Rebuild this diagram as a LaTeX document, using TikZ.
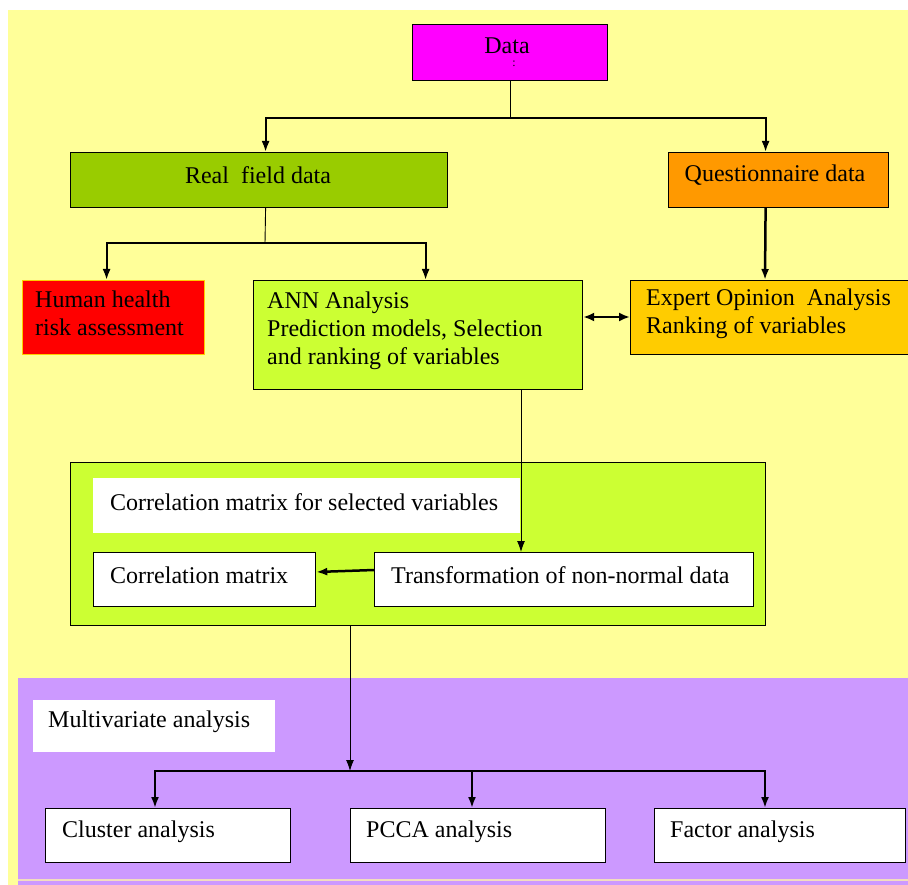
\documentclass[tikz,border=0pt]{standalone}
\usepackage{fontspec}
\setmainfont{Liberation Serif}
\usetikzlibrary{arrows.meta,calc}
\definecolor{bgyellow}{HTML}{FFFF99}
\definecolor{bgpurple}{HTML}{CC99FF}
\definecolor{cmag}{HTML}{FF00FF}
\definecolor{cgreen}{HTML}{99CC00}
\definecolor{corange}{HTML}{FF9900}
\definecolor{cred}{HTML}{FF0000}
\definecolor{cgold}{HTML}{FFCC00}
\definecolor{clime}{HTML}{CCFF33}
\definecolor{cline}{HTML}{F2DDC0}
\begin{document}
\begin{tikzpicture}[x=1pt,y=-1pt,
  font=\fontsize{24}{28}\selectfont,
  box/.style={draw=black, line width=1.2pt, rectangle, inner sep=0pt, anchor=north west},
  plain/.style={rectangle, inner sep=0pt, anchor=north west},
  txt/.style={anchor=west, align=left, inner sep=0pt, yshift=4pt},
  thin/.style={line width=0.9pt},
  arr/.style={line width=2pt, -{Latex[length=11pt,width=8pt]}},
  arrthin/.style={line width=0.9pt, -{Latex[length=11pt,width=8pt]}}
]
\useasboundingbox (0,0) rectangle (908,885);
% backgrounds
\fill[white] (0,0) rectangle (908,885);
\fill[bgyellow] (8,10) rectangle (908,885);
\fill[bgpurple] (18,678) rectangle (908,885);
\draw[cline, line width=2pt] (18,880) -- (908,880);

% top level
\node[box, fill=cmag, minimum width=195pt, minimum height=56pt] (data) at (412,24) {};
\node[inner sep=0pt] (datatxt) at (507,46) {Data};
\node[inner sep=0pt, font=\fontsize{12}{12}\selectfont] (datacolon) at (514,64) {:};

\node[box, fill=cgreen, minimum width=377pt, minimum height=55pt] (real) at (70,152) {};
\node[inner sep=0pt] (realtxt) at (258,175) {Real\ \ field data};

\node[box, fill=corange, minimum width=220pt, minimum height=55pt] (quest) at (668,152) {};
\node[inner sep=0pt] (questtxt) at (775,175) {Questionnaire data};

% second level
\node[box, draw=cgold, fill=cred, minimum width=182pt, minimum height=74pt] (human) at (22,280) {};
\node[txt] (humantxt) at ($(human.west)+(13,0)$) {Human health\\risk assessment};

\node[box, fill=clime, minimum width=329pt, minimum height=109pt] (ann) at (253,280) {};
\node[txt] (anntxt) at ($(ann.west)+(14,0)$) {ANN Analysis\\Prediction models, Selection\\and ranking of variables};

\node[box, fill=cgold, minimum width=285pt, minimum height=74pt] (expert) at (630,280) {};
\node[txt] (experttxt) at ($(expert.west)+(16,0)$) {Expert Opinion\ \ Analysis\\Ranking of variables};

% correlation block
\node[box, fill=clime, minimum width=695pt, minimum height=163pt] (outer) at (70,462) {};
\node[plain, fill=white, minimum width=427pt, minimum height=55pt] (corrsel) at (93,478) {};
\node[txt] (corrseltxt) at ($(corrsel.west)+(17,0)$) {Correlation matrix\ for selected variables};
\node[box, fill=white, minimum width=222pt, minimum height=54pt] (corr) at (93,552) {};
\node[txt] (corrtxt) at ($(corr.west)+(17,0)$) {Correlation matrix};
\node[box, fill=white, minimum width=379pt, minimum height=54pt] (trans) at (374,552) {};
\node[txt] (transtxt) at ($(trans.west)+(17,0)$) {Transformation of non-normal data};

% multivariate block
\node[plain, fill=white, minimum width=242pt, minimum height=52pt] (multi) at (33,700) {};
\node[txt] (multitxt) at ($(multi.west)+(15,0)$) {Multivariate analysis};
\node[box, fill=white, minimum width=245pt, minimum height=54pt] (cluster) at (45,808) {};
\node[txt] (clustertxt) at ($(cluster.west)+(17,0)$) {Cluster analysis};
\node[box, fill=white, minimum width=255pt, minimum height=54pt] (pcca) at (350,808) {};
\node[txt] (pccatxt) at ($(pcca.west)+(16,0)$) {PCCA analysis};
\node[box, fill=white, minimum width=251pt, minimum height=54pt] (factor) at (654,808) {};
\node[txt] (factortxt) at ($(factor.west)+(16,0)$) {Factor analysis};

% connectors
\coordinate (j1) at (data.south |- 0,118);
\draw[thin] (data.south) -- (j1);
\draw[line width=2pt] (265,118) -- (765,118);
\draw[arr] (j1) -| ($(real.north)+(6.5,0)$);
\draw[arr] (j1) -| ($(quest.north)+(-13,0)$);

\coordinate (j2) at (265,243);
\draw[thin] ($(real.south)+(6.5,0)$) -- (j2);
\draw[arr] (j2) -| ($(human.north)+(-7,0)$);
\draw[arr] (j2) -| ($(ann.north)+(7.5,0)$);

\draw[arr, line width=2.5pt] ($(quest.south)+(-13,0)$) -- ($(expert.north west)+(135,0)$);

\draw[line width=2.5pt, {Latex[length=11pt,width=9pt]}-{Latex[length=11pt,width=9pt]}] (ann.east |- 0,317) -- (expert.west |- 0,317);

\draw[arrthin] (521,389) -- (trans.north -| 521,0);

\draw[arr, line width=2.5pt] (trans.west |- 0,570) -- (corr.east |- 0,572);

\coordinate (j3) at (350,771);
\draw[arrthin] (outer.south -| 350,0) -- (j3);
\draw[line width=2pt] (155,771) -- (765,771);
\draw[arr] (j3) -| (cluster.north -| 155,0);
\draw[arr] (472,771) -- (pcca.north -| 472,0);
\draw[arr] (j3) -| (factor.north -| 765,0);
\end{tikzpicture}
\end{document}
